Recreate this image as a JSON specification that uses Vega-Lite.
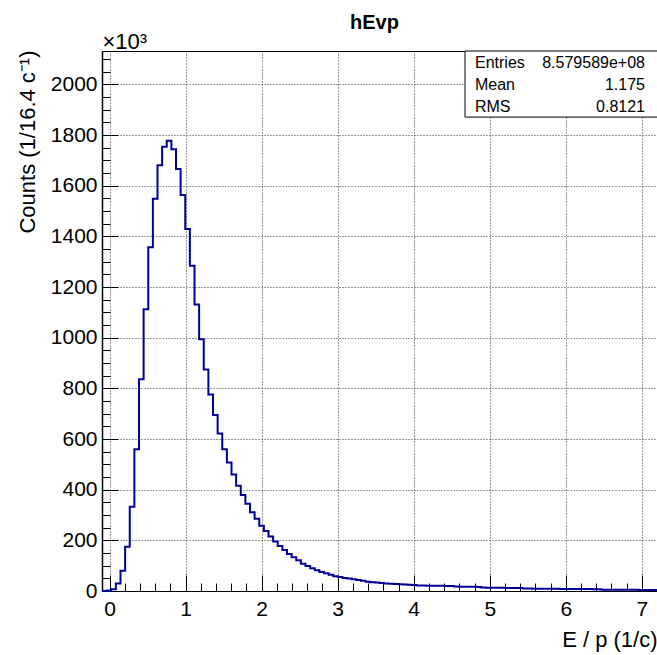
{
  "$schema": "https://vega.github.io/schema/vega-lite/v6.json",
  "width": 555,
  "height": 540,
  "autosize": {"type": "none"},
  "padding": {"left": 102, "top": 51, "right": 0, "bottom": 64},
  "background": "white",
  "config": {"font": "Liberation Sans", "view": {"stroke": null}},
  "data": {"values": [
    {"x": -0.1, "count": 0}, {"x": -0.0392, "count": 2}, {"x": 0.0217, "count": 7}, {"x": 0.0825, "count": 30},
    {"x": 0.1433, "count": 80}, {"x": 0.2042, "count": 175}, {"x": 0.265, "count": 333}, {"x": 0.3258, "count": 560},
    {"x": 0.3867, "count": 836}, {"x": 0.4475, "count": 1112}, {"x": 0.5083, "count": 1357}, {"x": 0.5692, "count": 1549},
    {"x": 0.63, "count": 1681}, {"x": 0.6908, "count": 1754}, {"x": 0.7517, "count": 1778}, {"x": 0.8125, "count": 1744},
    {"x": 0.8733, "count": 1666}, {"x": 0.9342, "count": 1563}, {"x": 0.995, "count": 1429}, {"x": 1.0558, "count": 1284},
    {"x": 1.1167, "count": 1131}, {"x": 1.1775, "count": 994}, {"x": 1.2383, "count": 875}, {"x": 1.2992, "count": 776},
    {"x": 1.36, "count": 695}, {"x": 1.4208, "count": 622}, {"x": 1.4817, "count": 560}, {"x": 1.5425, "count": 507},
    {"x": 1.6033, "count": 460}, {"x": 1.6642, "count": 416}, {"x": 1.725, "count": 379}, {"x": 1.7858, "count": 344},
    {"x": 1.8467, "count": 311}, {"x": 1.9075, "count": 285}, {"x": 1.9683, "count": 258}, {"x": 2.0292, "count": 237},
    {"x": 2.09, "count": 215}, {"x": 2.1508, "count": 195}, {"x": 2.2117, "count": 178}, {"x": 2.2725, "count": 162},
    {"x": 2.3333, "count": 146}, {"x": 2.3942, "count": 133}, {"x": 2.455, "count": 121}, {"x": 2.5158, "count": 108},
    {"x": 2.5767, "count": 99}, {"x": 2.6375, "count": 90}, {"x": 2.6983, "count": 82}, {"x": 2.7592, "count": 75},
    {"x": 2.82, "count": 70}, {"x": 2.8808, "count": 64}, {"x": 2.9417, "count": 58}, {"x": 3.0025, "count": 55},
    {"x": 3.0633, "count": 51}, {"x": 3.1242, "count": 49}, {"x": 3.185, "count": 46}, {"x": 3.2458, "count": 43},
    {"x": 3.3067, "count": 40}, {"x": 3.3675, "count": 37}, {"x": 3.4283, "count": 35}, {"x": 3.4892, "count": 34},
    {"x": 3.55, "count": 32}, {"x": 3.6108, "count": 30}, {"x": 3.6717, "count": 29}, {"x": 3.7325, "count": 28},
    {"x": 3.7933, "count": 27}, {"x": 3.8542, "count": 26}, {"x": 3.915, "count": 25}, {"x": 3.9758, "count": 24},
    {"x": 4.0367, "count": 22}, {"x": 4.0975, "count": 21.5}, {"x": 4.1583, "count": 21}, {"x": 4.2192, "count": 21},
    {"x": 4.28, "count": 20.5}, {"x": 4.3408, "count": 20.5}, {"x": 4.4017, "count": 20}, {"x": 4.4625, "count": 19.5},
    {"x": 4.5233, "count": 17.5}, {"x": 4.5842, "count": 17}, {"x": 4.645, "count": 17}, {"x": 4.7058, "count": 16.5},
    {"x": 4.7667, "count": 16.5}, {"x": 4.8275, "count": 16}, {"x": 4.8883, "count": 13.5}, {"x": 4.9492, "count": 13},
    {"x": 5.01, "count": 13}, {"x": 5.0708, "count": 12.5}, {"x": 5.1317, "count": 12.5}, {"x": 5.1925, "count": 12},
    {"x": 5.2533, "count": 12}, {"x": 5.3142, "count": 12}, {"x": 5.375, "count": 11.5}, {"x": 5.4358, "count": 9.5},
    {"x": 5.4967, "count": 9.5}, {"x": 5.5575, "count": 9}, {"x": 5.6183, "count": 9}, {"x": 5.6792, "count": 9},
    {"x": 5.74, "count": 8.5}, {"x": 5.8008, "count": 8.5}, {"x": 5.8617, "count": 8.5}, {"x": 5.9225, "count": 8},
    {"x": 5.9833, "count": 8}, {"x": 6.0442, "count": 8}, {"x": 6.105, "count": 8}, {"x": 6.1658, "count": 7.5},
    {"x": 6.2267, "count": 7.5}, {"x": 6.2875, "count": 7.5}, {"x": 6.3483, "count": 7}, {"x": 6.4092, "count": 7},
    {"x": 6.47, "count": 5}, {"x": 6.5308, "count": 5}, {"x": 6.5917, "count": 5}, {"x": 6.6525, "count": 4.5},
    {"x": 6.7133, "count": 4.5}, {"x": 6.7742, "count": 4.5}, {"x": 6.835, "count": 4.5}, {"x": 6.8958, "count": 4.5},
    {"x": 6.9567, "count": 4}, {"x": 7.0175, "count": 4}, {"x": 7.0783, "count": 4}, {"x": 7.1392, "count": 4},
    {"x": 7.2, "count": 4}
  ]},
  "resolve": {"axis": {"x": "independent", "y": "independent"}},
  "layer": [
    {
      "mark": {"type": "line", "interpolate": "step-after", "color": "#000099", "strokeWidth": 2},
      "encoding": {
        "x": {"field": "x", "type": "quantitative",
          "scale": {"domain": [-0.1, 7.2], "nice": false, "zero": false},
          "axis": {"orient": "bottom", "values": [0, 1, 2, 3, 4, 5, 6, 7], "format": "d", "ticks": false,
            "grid": true, "gridColor": "#333", "gridDash": [1, 2], "gridWidth": 1,
            "domain": true, "domainColor": "black", "domainWidth": 1,
            "labelFont": "Liberation Sans", "labelFontSize": 21, "labelColor": "black", "labelPadding": 7,
            "title": "E / p (1/c)", "titleFont": "Liberation Sans", "titleFontSize": 22, "titleFontWeight": "normal", "titleColor": "black",
            "titleX": 555, "titleY": 55, "titleAlign": "right", "titleBaseline": "alphabetic", "titleAnchor": null}},
        "y": {"field": "count", "type": "quantitative",
          "scale": {"domain": [0, 2132], "nice": false, "zero": true},
          "axis": {"orient": "left", "values": [0, 200, 400, 600, 800, 1000, 1200, 1400, 1600, 1800, 2000], "format": "d", "ticks": false,
            "grid": true, "gridColor": "#333", "gridDash": [1, 2], "gridWidth": 1,
            "domain": true, "domainColor": "black", "domainWidth": 1.5,
            "labelFont": "Liberation Sans", "labelFontSize": 21, "labelColor": "black", "labelPadding": 5,
            "title": "Counts (1/16.4 c⁻¹)", "titleFont": "Liberation Sans", "titleFontSize": 22, "titleFontWeight": "normal", "titleColor": "black",
            "titleAngle": -90, "titleX": -75, "titleY": -1, "titleAlign": "right", "titleBaseline": "middle", "titleAnchor": null}}
      }
    },
    {
      "mark": {"type": "line", "strokeOpacity": 0},
      "encoding": {
        "x": {"field": "x", "type": "quantitative",
          "axis": {"orient": "bottom", "values": [0, 1, 2, 3, 4, 5, 6, 7], "labels": false, "grid": false, "domain": false,
            "ticks": true, "tickSize": -16, "tickColor": "black", "tickWidth": 1, "title": null}},
        "y": {"field": "count", "type": "quantitative",
          "axis": {"orient": "left", "values": [0, 200, 400, 600, 800, 1000, 1200, 1400, 1600, 1800, 2000], "labels": false, "grid": false, "domain": false,
            "ticks": true, "tickSize": -16, "tickColor": "black", "tickWidth": 1,
            "title": "×10³", "titleFont": "Liberation Sans", "titleFontSize": 22, "titleFontWeight": "normal", "titleColor": "black",
            "titleAngle": 0, "titleX": 0, "titleY": -3, "titleAlign": "left", "titleBaseline": "alphabetic", "titleAnchor": null}}
      }
    },
    {
      "mark": {"type": "line", "strokeOpacity": 0},
      "encoding": {
        "x": {"field": "x", "type": "quantitative",
          "axis": {"orient": "bottom", "values": [0.2, 0.4, 0.6, 0.8, 1.2, 1.4, 1.6, 1.8, 2.2, 2.4, 2.6, 2.8, 3.2, 3.4, 3.6, 3.8, 4.2, 4.4, 4.6, 4.8, 5.2, 5.4, 5.6, 5.8, 6.2, 6.4, 6.6, 6.8, 7.2],
            "labels": false, "grid": false, "domain": false,
            "ticks": true, "tickSize": -8, "tickColor": "black", "tickWidth": 1, "title": null}},
        "y": {"field": "count", "type": "quantitative",
          "axis": {"orient": "left", "values": [50, 100, 150, 250, 300, 350, 450, 500, 550, 650, 700, 750, 850, 900, 950, 1050, 1100, 1150, 1250, 1300, 1350, 1450, 1500, 1550, 1650, 1700, 1750, 1850, 1900, 1950, 2050, 2100],
            "labels": false, "grid": false, "domain": false,
            "ticks": true, "tickSize": -8, "tickColor": "black", "tickWidth": 1, "title": null}}
      }
    },
    {
      "mark": {"type": "line", "strokeOpacity": 0},
      "encoding": {
        "x": {"field": "x", "type": "quantitative",
          "axis": {"orient": "top", "labels": false, "grid": false, "ticks": false, "domain": true, "domainColor": "black", "domainWidth": 1,
            "title": "hEvp", "titleFont": "Liberation Sans", "titleFontSize": 20, "titleFontWeight": "bold", "titleColor": "black",
            "titleX": 272, "titleY": -23, "titleAlign": "center", "titleBaseline": "alphabetic", "titleAnchor": null}},
        "y": {"field": "count", "type": "quantitative", "axis": null}
      }
    },
    {
      "data": {"values": [{}]},
      "mark": {"type": "rect", "fill": "white", "stroke": "black", "strokeWidth": 1},
      "encoding": {
        "x": {"datum": 4.675, "type": "quantitative", "axis": null},
        "x2": {"datum": 7.3},
        "y": {"datum": 1871, "type": "quantitative", "axis": null},
        "y2": {"datum": 2132}
      }
    },
    {
      "data": {"values": [{}]},
      "mark": {"type": "text", "text": ["Entries", "Mean", "RMS"], "align": "left", "baseline": "alphabetic", "fontSize": 16, "lineHeight": 22, "font": "Liberation Sans", "color": "black"},
      "encoding": {
        "x": {"datum": 4.806, "type": "quantitative", "axis": null},
        "y": {"datum": 2065, "type": "quantitative", "axis": null}
      }
    },
    {
      "data": {"values": [{}]},
      "mark": {"type": "text", "text": ["8.579589e+08", "1.175", "0.8121"], "align": "right", "baseline": "alphabetic", "fontSize": 16, "lineHeight": 22, "font": "Liberation Sans", "color": "black"},
      "encoding": {
        "x": {"datum": 7.042, "type": "quantitative", "axis": null},
        "y": {"datum": 2065, "type": "quantitative", "axis": null}
      }
    }
  ]
}
